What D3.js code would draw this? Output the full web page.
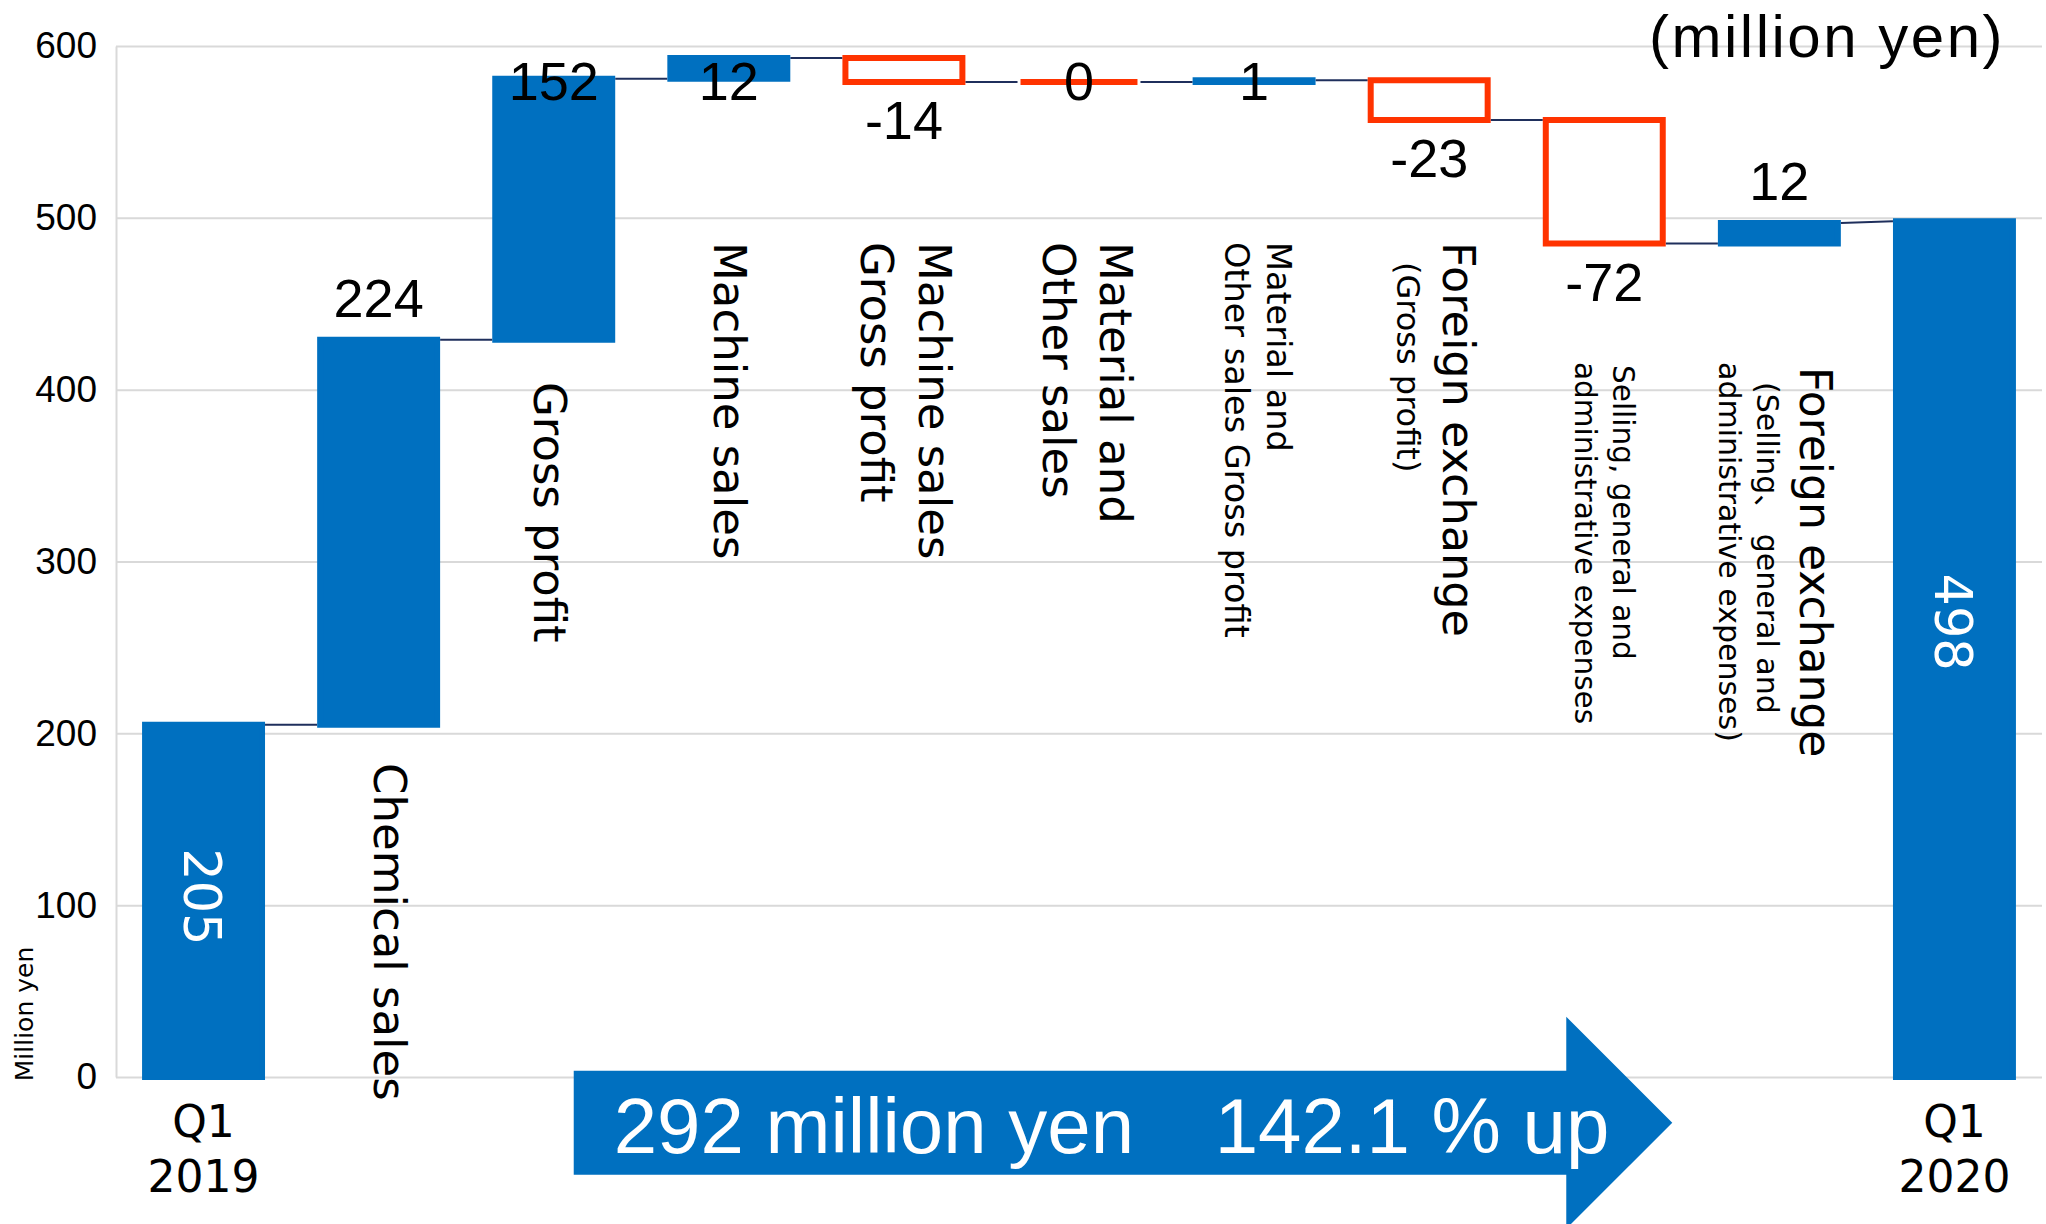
<!DOCTYPE html>
<html>
<head>
<meta charset="utf-8">
<script src="https://cdn.jsdelivr.net/npm/d3@7"></script>
<style>
  html, body { margin: 0; padding: 0; background: #fff; }
  svg { display: block; }
</style>
</head>
<body>
<svg id="chart" width="2046" height="1224"></svg>
<script>
// ---- data -------------------------------------------------------------
const categories = [
  "Q1\n2019",
  "Chemical sales",
  "Gross profit",
  "Machine sales",
  "Machine sales\nGross profit",
  "Material and\nOther sales",
  "Material and\nOther sales Gross profit",
  "Foreign exchange\n(Gross profit)",
  "Selling, general and\nadministrative expenses",
  "Foreign exchange\n(Selling、 general and\nadministrative expenses)",
  "Q1\n2020"
];
const barKinds = ["total", "delta", "delta", "delta", "delta", "delta",
                  "delta", "delta", "delta", "delta", "total"];
const values = [205, 224, 152, 12, -14, 0, 1, -23, -72, 12, 498];
const yTickValues = [0, 100, 200, 300, 400, 500, 600];
const unitNote = "(million yen)";
const axisTitle = "Million yen";
const growthNote = ["292 million yen", "142.1 % up"];

// ---- layout & style ---------------------------------------------------
const W = 2046, H = 1224;
const plot = { left: 116, right: 2042, top: 46, bottom: 1077 };
const BLUE = "#0070C0", RED = "#FF3300", GRID = "#D9D9D9", LINK = "#1F2F5C";
const NUM_FONT = "'Liberation Sans', Arial, sans-serif";
const CAT_FONT = "'DejaVu Sans', Verdana, sans-serif";

// rotated category captions: per line, baseline offset from band centre,
// top of the line, font size
const captionLayout = [
  null,
  [{ dx: -5, y: 763, size: 45 }],
  [{ dx: -20, y: 382, size: 45 }],
  [{ dx: -15, y: 242, size: 45 }],
  [{ dx: 15, y: 242, size: 45 }, { dx: -43, y: 242, size: 45 }],
  [{ dx: 21, y: 242, size: 45 }, { dx: -36, y: 242, size: 45 }],
  [{ dx: 13, y: 242, size: 33.5 }, { dx: -29, y: 242, size: 33.5 }],
  [{ dx: 14, y: 242, size: 44.5 }, { dx: -32, y: 262, size: 32 }],
  [{ dx: 9, y: 365, size: 29.5 }, { dx: -29, y: 362, size: 29.5 }],
  [{ dx: 21, y: 367, size: 44 }, { dx: -22, y: 382, size: 30 }, { dx: -60, y: 362, size: 30 }],
  null
];
// vertical nudge for the value written inside each total bar
const insideLabelDy = { 0: -4, 10: -27 };

// ---- scales -----------------------------------------------------------
const svg = d3.select("#chart");
const x = d3.scaleBand()
  .domain(d3.range(categories.length))
  .range([plot.left, plot.right])
  .padding(0);
const xc = i => x(i) + x.bandwidth() / 2;
const barW = x.bandwidth() * 0.668;
const STROKE = 6;

const y = d3.scaleLinear().domain([0, 600]).range([plot.bottom, plot.top]);

// running totals for the waterfall
let run = 0;
const steps = values.map((v, i) => {
  if (barKinds[i] === "total") {
    run = v;
    return { i, v, total: true, from: v, to: v, lo: 0, hi: v };
  }
  const s = run;
  run = s + v;
  return { i, v, total: false, from: s, to: run, lo: Math.min(s, run), hi: Math.max(s, run) };
});

// ---- grid & axis --------------------------------------------------------
const yAxis = d3.axisLeft(y)
  .tickValues(yTickValues)
  .tickSize(-(plot.right - plot.left))
  .tickSizeOuter(0)
  .tickPadding(19);

const gAxis = svg.append("g")
  .attr("transform", `translate(${plot.left},0)`)
  .call(yAxis);
gAxis.select(".domain").attr("stroke", GRID).attr("stroke-width", 2);
gAxis.selectAll(".tick line").attr("stroke", GRID).attr("stroke-width", 2);
gAxis.selectAll(".tick text")
  .attr("fill", "#000")
  .style("font-family", NUM_FONT)
  .style("font-size", "37px");

svg.append("text")
  .attr("transform", "translate(24,1014) rotate(-90)")
  .attr("text-anchor", "middle")
  .attr("dominant-baseline", "central")
  .style("font-family", CAT_FONT)
  .style("font-size", "25px")
  .attr("fill", "#000")
  .text(axisTitle);

// ---- connectors ---------------------------------------------------------
const links = steps.slice(0, -1).map((s, k) => ({
  x1: xc(s.i) + barW / 2 + STROKE / 2,
  y1: y(s.to),
  x2: xc(k + 1) - barW / 2 - STROKE / 2,
  y2: y(steps[k + 1].from)
}));
svg.append("g").selectAll("line").data(links).join("line")
  .attr("x1", d => d.x1).attr("y1", d => d.y1)
  .attr("x2", d => d.x2).attr("y2", d => d.y2)
  .attr("stroke", LINK).attr("stroke-width", 2);

// ---- bars ---------------------------------------------------------------
// drawn as closed paths so that a zero change still shows as a stroked bar
const isUp = s => s.total || s.v > 0;
const barPath = s => {
  const x0 = xc(s.i) - barW / 2, y0 = y(s.hi), h = y(s.lo) - y(s.hi);
  return `M${x0},${y0}h${barW}v${h}h${-barW}Z`;
};
svg.append("g").selectAll("path").data(steps).join("path")
  .attr("d", barPath)
  .attr("fill", s => isUp(s) ? BLUE : "#fff")
  .attr("stroke", s => isUp(s) ? BLUE : RED)
  .attr("stroke-width", STROKE)
  .attr("stroke-linejoin", "miter");

// ---- value labels -------------------------------------------------------
const deltas = steps.filter(s => !s.total);
svg.append("g").selectAll("text").data(deltas).join("text")
  .attr("x", s => xc(s.i))
  .attr("y", s => s.v >= 0 ? Math.max(y(s.hi) - 23, 100) : y(s.lo) + 57)
  .attr("text-anchor", "middle")
  .style("font-family", NUM_FONT)
  .style("font-size", "54px")
  .attr("fill", "#000")
  .text(s => String(s.v));

const totals = steps.filter(s => s.total);
svg.append("g").selectAll("text").data(totals).join("text")
  .attr("transform", s => `translate(${xc(s.i) - 2},${y(s.v / 2) + (insideLabelDy[s.i] || 0)}) rotate(90)`)
  .attr("text-anchor", "middle")
  .attr("dominant-baseline", "central")
  .style("font-family", CAT_FONT)
  .style("font-size", "51px")
  .attr("fill", "#fff")
  .text(s => s.v);

// ---- category captions --------------------------------------------------
// period labels under the total bars
totals.forEach(s => {
  const t = svg.append("text")
    .attr("text-anchor", "middle")
    .style("font-family", CAT_FONT)
    .style("font-size", "44px")
    .attr("fill", "#000");
  categories[s.i].split("\n").forEach((line, k) => {
    t.append("tspan").attr("x", xc(s.i)).attr("y", 1137 + k * 55).text(line);
  });
});

// rotated captions for the change items
const capG = svg.append("g");
categories.forEach((cat, i) => {
  const lay = captionLayout[i];
  if (!lay) return;
  cat.split("\n").forEach((line, k) => {
    const L = lay[k];
    capG.append("text")
      .attr("transform", `translate(${xc(i) + L.dx},${L.y}) rotate(90)`)
      .attr("text-anchor", "start")
      .style("font-family", CAT_FONT + ", 'Noto Sans CJK JP'")
      .style("font-size", L.size + "px")
      .attr("fill", "#000")
      .text(line);
  });
});

// ---- unit note ------------------------------------------------------------
svg.append("text")
  .attr("x", 2005).attr("y", 57)
  .attr("text-anchor", "end")
  .style("font-family", NUM_FONT)
  .style("font-size", "60px")
  .style("letter-spacing", "2.5px")
  .attr("fill", "#000")
  .text(unitNote);

// ---- growth arrow ----------------------------------------------------------
const ax0 = xc(2) + 20, axBase = xc(8) - 38, headDepth = 106;
const aMid = 1122.7, aHalf = 52, headHalf = 106;
const arrowPts = [
  [ax0, aMid - aHalf], [axBase, aMid - aHalf], [axBase, aMid - headHalf],
  [axBase + headDepth, aMid], [axBase, aMid + headHalf], [axBase, aMid + aHalf],
  [ax0, aMid + aHalf]
];
svg.append("path")
  .attr("d", d3.line()(arrowPts) + "Z")
  .attr("fill", BLUE);

const note = svg.append("text")
  .attr("y", 1153)
  .style("font-family", NUM_FONT)
  .style("font-size", "78px")
  .attr("fill", "#fff");
note.append("tspan").attr("x", ax0 + 40).text(growthNote[0]);
note.append("tspan").attr("x", ax0 + 641).text(growthNote[1]);
</script>
</body>
</html>
